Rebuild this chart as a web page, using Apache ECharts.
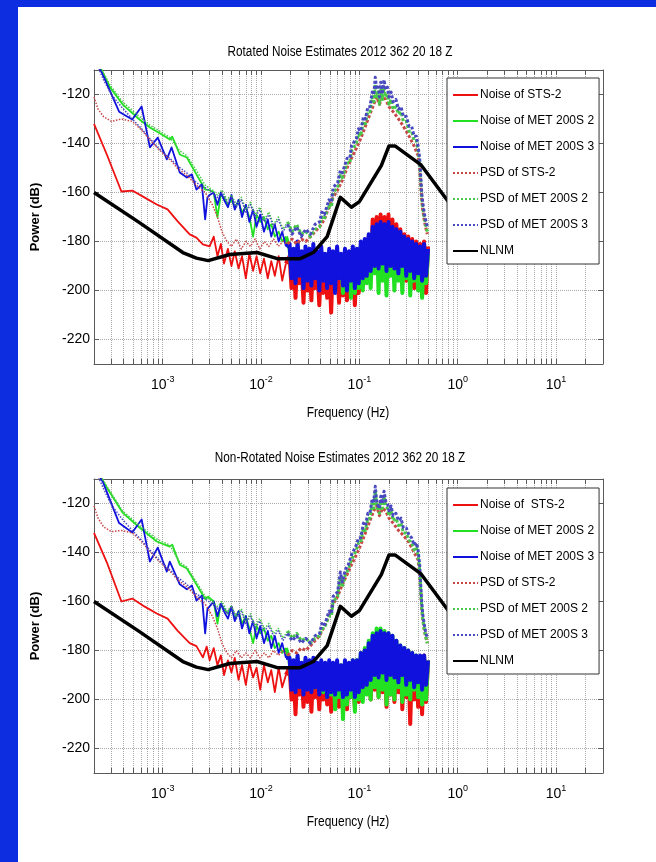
<!DOCTYPE html>
<html><head><meta charset="utf-8">
<script src="https://cdn.jsdelivr.net/npm/echarts@6/dist/echarts.min.js"></script>
<style>html,body{margin:0;padding:0;background:#fff}#c{width:656px;height:862px}</style>
</head><body><div id="c"></div>
<script>
// ---------------- DATA ----------------
const titles = ['Rotated Noise Estimates 2012 362 20 18 Z', 'Non-Rotated Noise Estimates 2012 362 20 18 Z'];
const xName = 'Frequency (Hz)';
const yName = 'Power (dB)';
const legendNames1 = ['Noise of STS-2','Noise of MET 200S 2','Noise of MET 200S 3','PSD of STS-2','PSD of MET 200S 2','PSD of MET 200S 3','NLNM'];
const legendNames2 = ['Noise of  STS-2','Noise of MET 200S 2','Noise of MET 200S 3','PSD of STS-2','PSD of MET 200S 2','PSD of MET 200S 3','NLNM'];
const xLabelTicks = [0.001, 0.01, 0.1, 1, 10];
const xGridTicks = [0.0003,0.0004,0.0005,0.0006,0.0007,0.0008,0.0009,
  0.001,0.002,0.003,0.004,0.005,0.006,0.007,0.008,0.009,
  0.01,0.02,0.03,0.04,0.05,0.06,0.07,0.08,0.09,
  0.1,0.2,0.3,0.4,0.5,0.6,0.7,0.8,0.9,
  1,2,3,4,5,6,7,8,9,10,20,30];
const yTicks = [-220,-200,-180,-160,-140,-120];

// frequency grid of the noisy sections (Hz)
const fMid = [0.0030,0.0033,0.0036,0.0039,0.0042,0.0046,0.0050,0.0054,0.0059,0.0064,
  0.0070,0.0076,0.0083,0.0090,0.0098,0.0107,0.0117,0.0127,0.0138,0.0151,0.0164,0.0179];
const fDense = [0.0195,0.0204,0.0214,0.0224,0.0235,0.0246,0.0258,0.0270,0.0283,0.0296,
  0.0310,0.0325,0.0340,0.0356,0.0373,0.0391,0.0409,0.0429,0.0449,0.0470,
  0.0493,0.0516,0.0540,0.0566,0.0593,0.0621,0.0650,0.0681,0.0713,0.0747,
  0.0783,0.0820,0.0858,0.0899,0.0942,0.0986,0.1033,0.1082,0.1133,0.1187,
  0.1243,0.1302,0.1364,0.1428,0.1496,0.1567,0.1641,0.1719,0.1800,0.1886,
  0.1975,0.2069,0.2167,0.2269,0.2377,0.2490,0.2608,0.2731,0.2861,0.2996,
  0.3138,0.3287,0.3443,0.3606,0.3777,0.3956,0.4143,0.4340,0.4545,0.4761,0.4987];

// NLNM (same model on both panels)
const nlnm = [[2.0e-4,-160],[5.8e-4,-172.3],[1.6e-3,-184.5],[2.2e-3,-186.8],[2.9e-3,-187.8],[4.8e-3,-185.3],[9.1e-3,-184.5],
  [0.0146,-187],[0.025,-187],[0.034,-184.5],[0.047,-178],[0.064,-162],[0.083,-166],[0.1,-163.7],[0.167,-149],
  [0.2,-141],[0.23,-141],[0.42,-148.6],[0.8,-163.7],[1.25,-169],[2.5,-166.7],[5.9,-166.7],[10,-168]];

// ---- Panel 1 (Rotated) ----
const sts1Low = [[2.0e-4,-132],[2.7e-4,-144.5],[3.8e-4,-159.6],[4.9e-4,-159.2],[6.5e-4,-162],[8.7e-4,-164.9],[1.12e-3,-166.9],[1.42e-3,-171.8],[1.88e-3,-177.1],[2.2e-3,-178.4],[2.56e-3,-181.2]];
const sts1Mid = [-182,-178,-186,-181,-189,-183,-190,-184,-191,-186,-195,-185,-192,-186,-193,-187,-195,-188,-194,-186,-196,-189];
const sts1Dense = [-186,-199,-188,-203,-185,-197,-189,-205,-187,-200,
  -188,-204,-186,-199,-190,-206,-187,-201,-189,-203,
  -188,-209,-187,-200,-190,-205,-188,-202,-189,-204,
  -190,-199,-188,-206,-189,-201,-184,-198,-182,-196,
  -178,-194,-171,-192,-170,-193,-169,-191,-170,-194,
  -169,-192,-171,-193,-173,-195,-175,-194,-177,-196,
  -178,-197,-179,-199,-180,-198,-181,-202,-180,-201,-182];
const met2n1Low = [[2.2e-4,-107],[2.9e-4,-117],[3.9e-4,-124],[5.8e-4,-130.2],[7.4e-4,-133.5],[9.8e-4,-136.3],[1.18e-3,-138.4],[1.25e-3,-137.2],[1.49e-3,-144.5],[1.76e-3,-145.7],[2.2e-3,-152.6],[2.7e-3,-158.8]];
const met2n1Mid = [-159,-160,-170,-161,-162,-165,-163,-166,-164,-168,-166,-170,-178,-169,-172,-170,-175,-173,-178,-176,-180,-178];
const met2n1Dense = [-183,-193,-185,-194,-182,-192,-186,-195,-184,-193,
  -185,-195,-183,-193,-186,-196,-184,-194,-186,-197,
  -185,-194,-186,-196,-184,-194,-186,-201,-185,-199,
  -186,-203,-184,-201,-185,-199,-182,-200,-181,-197,
  -179,-199,-176,-193,-175,-201,-174,-196,-176,-202,
  -175,-194,-177,-200,-178,-196,-179,-201,-180,-195,
  -181,-202,-182,-196,-183,-200,-184,-203,-183,-197,-185];
const met3n1Low = [[2.1e-4,-107],[2.4e-4,-111],[3.6e-4,-127],[4.9e-4,-130.2],[6.1e-4,-124.9],[7.4e-4,-141.6],[8.9e-4,-137.6],[1.1e-3,-146.5],[1.23e-3,-141.6],[1.49e-3,-151.8],[1.76e-3,-153.9],[1.98e-3,-152.6],[2.2e-3,-158.8],[2.5e-3,-156.7],[2.7e-3,-171],[2.85e-3,-162]];
const met3n1Mid = [-161,-160,-165,-160,-163,-166,-161,-167,-163,-170,-165,-172,-167,-174,-169,-176,-171,-178,-173,-180,-176,-182];
const met3n1Dense = [-181,-195,-183,-197,-180,-194,-184,-199,-182,-196,
  -183,-198,-181,-195,-184,-200,-182,-196,-185,-199,
  -183,-197,-184,-201,-182,-195,-185,-198,-183,-200,
  -184,-196,-182,-199,-183,-197,-180,-195,-179,-194,
  -177,-192,-174,-190,-173,-191,-172,-189,-173,-192,
  -172,-190,-174,-191,-175,-193,-176,-190,-178,-194,
  -179,-192,-180,-195,-181,-193,-182,-196,-181,-194,-183];
const psdSts1 = [[2.0e-4,-121],[2.2e-4,-126],[2.5e-4,-129],[3.0e-4,-131],[3.8e-4,-130],[4.9e-4,-131],[6.1e-4,-134.5],[7.4e-4,-138.5],[8.9e-4,-142],[1.1e-3,-145.5],[1.25e-3,-147.5],[1.4e-3,-150],[1.76e-3,-153],[2.2e-3,-157],[2.7e-3,-160],[3.2e-3,-165],[3.6e-3,-170],[4.0e-3,-176],[4.5e-3,-180],[5.0e-3,-182],[5.6e-3,-179],[6.3e-3,-183],[7.0e-3,-180],[7.8e-3,-182],[8.7e-3,-179],[9.7e-3,-183],[0.0108,-180],[0.012,-182],[0.0134,-179],[0.015,-182],[0.0167,-180],[0.0186,-181],[0.0207,-179],[0.023,-181],[0.0256,-179],[0.0285,-180],[0.0318,-178],[0.0354,-176],[0.0394,-174],[0.044,-171],[0.049,-166],[0.054,-162],[0.06,-159],[0.067,-155],[0.075,-150],[0.083,-146],[0.093,-142],[0.103,-138],[0.115,-133],[0.128,-128],[0.14,-124],[0.15,-121],[0.16,-124],[0.172,-121],[0.185,-122],[0.2,-125],[0.22,-127],[0.25,-130],[0.28,-133],[0.32,-137],[0.36,-141],[0.395,-145],[0.41,-150],[0.42,-157],[0.43,-163],[0.44,-167],[0.455,-171],[0.47,-174],[0.49,-177]];
const psdMet2_1 = [[2.2e-4,-107],[2.9e-4,-116],[3.9e-4,-123],[5.8e-4,-129],[7.4e-4,-132.5],[9.8e-4,-135.5],[1.18e-3,-137.5],[1.49e-3,-143],[1.76e-3,-145],[2.2e-3,-151],[2.7e-3,-157],[3.2e-3,-159],[3.6e-3,-161],[4.0e-3,-159],[4.5e-3,-163],[5.0e-3,-161],[5.6e-3,-165],[6.3e-3,-162],[7.0e-3,-167],[7.8e-3,-164],[8.7e-3,-169],[9.7e-3,-166],[0.0108,-171],[0.012,-168],[0.0134,-173],[0.015,-170],[0.0167,-175],[0.0186,-172],[0.0207,-176],[0.023,-173],[0.0256,-177],[0.0285,-176],[0.0318,-178],[0.0354,-175],[0.0394,-174],[0.0415,-170],[0.044,-171],[0.049,-165],[0.052,-166],[0.054,-160],[0.06,-158],[0.064,-153],[0.067,-154],[0.075,-148],[0.08,-148],[0.083,-143],[0.093,-140],[0.098,-136],[0.103,-137],[0.11,-131],[0.115,-132],[0.122,-127],[0.128,-127],[0.135,-121],[0.14,-123],[0.145,-116],[0.15,-121],[0.155,-119],[0.16,-124],[0.165,-118],[0.172,-122],[0.178,-117],[0.185,-121],[0.193,-120],[0.2,-124],[0.21,-122],[0.22,-126],[0.235,-125],[0.25,-128],[0.265,-127],[0.28,-131],[0.3,-131],[0.32,-135],[0.34,-135],[0.36,-139],[0.38,-139],[0.395,-143],[0.41,-148],[0.42,-155],[0.43,-162],[0.44,-166],[0.455,-170],[0.47,-173],[0.49,-176]];
const psdMet3_1 = [[2.1e-4,-107],[2.5e-4,-114],[3.0e-4,-120],[3.8e-4,-125],[4.9e-4,-130],[6.1e-4,-134],[7.4e-4,-138],[8.9e-4,-141.5],[1.1e-3,-145],[1.25e-3,-147],[1.4e-3,-149],[1.76e-3,-152],[2.2e-3,-156],[2.7e-3,-158],[3.2e-3,-160],[3.6e-3,-162],[4.0e-3,-160],[4.5e-3,-164],[5.0e-3,-162],[5.6e-3,-166],[6.3e-3,-163],[7.0e-3,-168],[7.8e-3,-165],[8.7e-3,-170],[9.7e-3,-167],[0.0108,-172],[0.012,-169],[0.0134,-174],[0.015,-171],[0.0167,-176],[0.0186,-173],[0.0207,-177],[0.023,-174],[0.0256,-178],[0.0285,-175],[0.0318,-177],[0.0354,-173],[0.0394,-172],[0.0415,-168],[0.044,-169],[0.049,-163],[0.052,-164],[0.054,-158],[0.06,-156],[0.064,-151],[0.067,-152],[0.075,-146],[0.08,-146],[0.083,-141],[0.093,-138],[0.098,-134],[0.103,-135],[0.11,-129],[0.115,-130],[0.122,-125],[0.128,-125],[0.135,-119],[0.14,-120],[0.145,-113],[0.15,-118],[0.155,-116],[0.16,-121],[0.165,-115],[0.172,-119],[0.178,-114],[0.185,-118],[0.193,-117],[0.2,-121],[0.21,-119],[0.22,-123],[0.235,-122],[0.25,-126],[0.265,-125],[0.28,-129],[0.3,-129],[0.32,-133],[0.34,-133],[0.36,-137],[0.38,-137],[0.395,-141],[0.41,-146],[0.42,-153],[0.43,-160],[0.44,-164],[0.455,-168],[0.47,-171],[0.49,-174]];

// ---- Panel 2 (Non-Rotated) ----
const sts2Low = [[2.0e-4,-132],[2.7e-4,-144],[3.8e-4,-160],[4.9e-4,-158.8],[6.5e-4,-162],[8.7e-4,-164.9],[1.12e-3,-167],[1.42e-3,-172],[1.88e-3,-177],[2.2e-3,-178.2],[2.56e-3,-182.8],[2.8e-3,-178.4]];
const sts2Mid = [-184,-179,-186,-182,-190,-184,-189,-183,-192,-186,-194,-185,-191,-187,-196,-186,-193,-188,-197,-187,-195,-190];
const sts2Dense = [-187,-200,-189,-206,-186,-198,-190,-203,-188,-201,
  -189,-205,-187,-199,-190,-204,-188,-200,-189,-202,
  -188,-205,-187,-200,-190,-203,-188,-201,-189,-204,
  -190,-199,-188,-203,-189,-201,-186,-198,-184,-197,
  -182,-200,-179,-196,-178,-199,-177,-197,-178,-203,
  -178,-198,-179,-201,-180,-197,-181,-204,-181,-199,
  -182,-210,-182,-200,-183,-203,-183,-206,-182,-201,-184];
const met2n2Low = [[2.2e-4,-107],[2.7e-4,-113.5],[3.9e-4,-123.7],[5.8e-4,-129.8],[8.7e-4,-135.5],[1.18e-3,-137.6],[1.25e-3,-136.8],[1.49e-3,-145],[1.76e-3,-146.5],[2.2e-3,-153],[2.7e-3,-159],[2.9e-3,-158]];
const met2n2Mid = [-158,-160,-169,-161,-163,-165,-162,-167,-164,-169,-166,-171,-177,-170,-173,-171,-176,-174,-179,-177,-181,-179];
const met2n2Dense = [-184,-194,-185,-195,-183,-194,-186,-196,-184,-195,
  -185,-196,-184,-195,-186,-197,-185,-197,-186,-199,
  -185,-198,-186,-204,-185,-199,-186,-208,-185,-202,
  -186,-199,-184,-205,-184,-200,-181,-201,-179,-198,
  -176,-200,-173,-195,-171,-199,-171,-196,-172,-202,
  -173,-198,-174,-200,-176,-195,-178,-201,-179,-198,
  -180,-200,-181,-196,-182,-199,-183,-202,-183,-200,-184];
const met3n2Low = [[2.1e-4,-107],[2.45e-4,-111],[3.6e-4,-128],[4.9e-4,-131.8],[6.1e-4,-126.5],[7.4e-4,-143.7],[8.9e-4,-138],[1.1e-3,-147.8],[1.18e-3,-143.7],[1.49e-3,-153],[1.76e-3,-155],[1.98e-3,-153.5],[2.2e-3,-159.6],[2.5e-3,-157.6],[2.7e-3,-173],[2.85e-3,-163]];
const met3n2Mid = [-162,-160,-166,-161,-164,-167,-162,-168,-164,-171,-166,-173,-168,-175,-170,-177,-172,-179,-174,-181,-177,-183];
const met3n2Dense = [-183,-196,-184,-197,-182,-195,-185,-198,-183,-196,
  -184,-197,-183,-195,-185,-198,-184,-196,-185,-199,
  -184,-197,-185,-198,-184,-196,-186,-199,-184,-198,
  -185,-196,-184,-199,-184,-197,-181,-195,-180,-194,
  -177,-192,-174,-190,-173,-191,-172,-189,-173,-192,
  -173,-190,-174,-191,-176,-193,-178,-190,-179,-194,
  -180,-192,-181,-195,-182,-193,-182,-196,-182,-194,-184];
const psdSts2 = [[2.0e-4,-121],[2.2e-4,-126],[2.5e-4,-129.5],[3.0e-4,-131.5],[3.8e-4,-131],[4.9e-4,-132],[6.1e-4,-135.5],[7.4e-4,-139.5],[8.9e-4,-143],[1.1e-3,-146.5],[1.25e-3,-148.5],[1.4e-3,-151],[1.76e-3,-154],[2.2e-3,-158],[2.7e-3,-161],[3.2e-3,-166],[3.6e-3,-171],[4.0e-3,-177],[4.5e-3,-181],[5.0e-3,-183],[5.6e-3,-180],[6.3e-3,-183],[7.0e-3,-181],[7.8e-3,-183],[8.7e-3,-180],[9.7e-3,-183],[0.0108,-181],[0.012,-183],[0.0134,-180],[0.015,-182],[0.0167,-180],[0.0186,-182],[0.0207,-180],[0.023,-181],[0.0256,-179],[0.0285,-180],[0.0318,-178],[0.0354,-176],[0.0394,-174],[0.044,-170],[0.049,-166],[0.054,-161],[0.06,-158],[0.067,-153],[0.075,-149],[0.083,-145],[0.093,-141],[0.103,-137],[0.115,-132],[0.128,-127],[0.14,-123],[0.15,-121],[0.16,-125],[0.172,-122],[0.185,-123],[0.2,-126],[0.22,-128],[0.25,-131],[0.28,-133],[0.32,-136],[0.36,-140],[0.395,-143],[0.41,-149],[0.42,-156],[0.43,-163],[0.44,-167],[0.455,-171],[0.47,-174],[0.49,-177]];
const psdMet2_2 = [[2.2e-4,-107],[2.7e-4,-113],[3.9e-4,-123],[5.8e-4,-129],[8.7e-4,-134.5],[1.18e-3,-137],[1.49e-3,-144],[1.76e-3,-146],[2.2e-3,-152],[2.7e-3,-158],[3.2e-3,-160],[3.6e-3,-162],[4.0e-3,-160],[4.5e-3,-164],[5.0e-3,-162],[5.6e-3,-166],[6.3e-3,-163],[7.0e-3,-168],[7.8e-3,-165],[8.7e-3,-170],[9.7e-3,-167],[0.0108,-171],[0.012,-169],[0.0134,-173],[0.015,-171],[0.0167,-175],[0.0186,-172],[0.0207,-175],[0.023,-173],[0.0256,-176],[0.0285,-175],[0.0318,-177],[0.0354,-175],[0.0394,-174],[0.0415,-171],[0.044,-171],[0.049,-166],[0.052,-166],[0.054,-160],[0.06,-158],[0.064,-150],[0.067,-154],[0.072,-149],[0.077,-147],[0.083,-143],[0.093,-139],[0.098,-136],[0.103,-136],[0.11,-130],[0.115,-131],[0.122,-126],[0.128,-126],[0.135,-120],[0.14,-122],[0.145,-115],[0.15,-121],[0.155,-123],[0.16,-124],[0.165,-119],[0.172,-122],[0.178,-117],[0.185,-121],[0.193,-122],[0.2,-125],[0.21,-123],[0.22,-127],[0.235,-126],[0.25,-129],[0.265,-128],[0.28,-132],[0.3,-132],[0.32,-135],[0.34,-136],[0.36,-139],[0.38,-138],[0.395,-141],[0.41,-147],[0.42,-155],[0.43,-162],[0.44,-167],[0.455,-171],[0.47,-174],[0.49,-177]];
const psdMet3_2 = [[2.1e-4,-107],[2.5e-4,-114],[3.0e-4,-120.5],[3.8e-4,-126],[4.9e-4,-131],[6.1e-4,-135],[7.4e-4,-139],[8.9e-4,-142.5],[1.1e-3,-146],[1.25e-3,-148],[1.4e-3,-150],[1.76e-3,-153],[2.2e-3,-157],[2.7e-3,-159],[3.2e-3,-161],[3.6e-3,-163],[4.0e-3,-161],[4.5e-3,-165],[5.0e-3,-162],[5.6e-3,-167],[6.3e-3,-164],[7.0e-3,-169],[7.8e-3,-166],[8.7e-3,-171],[9.7e-3,-168],[0.0108,-172],[0.012,-170],[0.0134,-174],[0.015,-172],[0.0167,-176],[0.0186,-173],[0.0207,-176],[0.023,-174],[0.0256,-177],[0.0285,-175],[0.0318,-177],[0.0354,-174],[0.0394,-173],[0.0415,-169],[0.044,-170],[0.049,-164],[0.052,-165],[0.054,-158],[0.06,-156],[0.064,-148],[0.067,-152],[0.072,-147],[0.077,-145],[0.083,-141],[0.093,-137],[0.098,-134],[0.103,-134],[0.11,-128],[0.115,-129],[0.122,-124],[0.128,-124],[0.135,-118],[0.14,-119],[0.145,-113],[0.15,-119],[0.155,-121],[0.16,-122],[0.165,-117],[0.172,-120],[0.178,-115],[0.185,-119],[0.193,-120],[0.2,-123],[0.21,-121],[0.22,-125],[0.235,-124],[0.25,-127],[0.265,-126],[0.28,-130],[0.3,-130],[0.32,-133],[0.34,-134],[0.36,-137],[0.38,-136],[0.395,-139],[0.41,-145],[0.42,-153],[0.43,-160],[0.44,-165],[0.455,-169],[0.47,-172],[0.49,-175]];

// ---------------- BUILD ----------------
const FN = "'Liberation Sans',Arial,sans-serif";
const COL = {red:'#ee1111', green:'#22e022', blue:'#1111dd', psdR:'#c84848', psdG:'#48c848', psdB:'#4848c0', black:'#000'};
const AX = '#5a5a5a';

const grids = [{left:94, top:70, width:509, height:294}, {left:94, top:479, width:509, height:294}];

const xAxes = [], yAxes = [];
grids.forEach((g, gi) => {
  const base = {type:'log', logBase:10, min:0.0002, max:30, gridIndex:gi};
  xAxes.push(Object.assign({}, base, {
    position:'bottom',
    axisLine:{show:true, lineStyle:{color:AX, width:1}},
    axisTick:{show:true, inside:true, length:5, customValues:xGridTicks, lineStyle:{color:AX}},
    axisLabel:{customValues:xLabelTicks, margin:11, color:'#000',
      formatter: v => '{b|10}{s|' + Math.round(Math.log10(v)) + '}',
      rich:{b:{fontFamily:FN, fontSize:14, color:'#000', verticalAlign:'bottom'},
            s:{fontFamily:FN, fontSize:9, color:'#000', verticalAlign:'bottom', padding:[0,0,8,0]}}},
    splitLine:{show:true, lineStyle:{color:'#aaaaaa', type:'dotted', width:1}}
  }));
  xAxes.push(Object.assign({}, base, {
    position:'top',
    axisLine:{show:true, lineStyle:{color:AX, width:1}},
    axisTick:{show:true, inside:true, length:5, customValues:xGridTicks, lineStyle:{color:AX}},
    axisLabel:{show:false}, splitLine:{show:false}
  }));
  const ybase = {type:'value', min:-230, max:-110, gridIndex:gi, splitNumber:6};
  yAxes.push(Object.assign({}, ybase, {
    position:'left',
    axisLine:{show:true, lineStyle:{color:AX, width:1}},
    axisTick:{show:true, inside:true, length:5, customValues:yTicks, lineStyle:{color:AX}},
    axisLabel:{customValues:yTicks, margin:4, fontFamily:FN, fontSize:14, color:'#000'},
    splitLine:{show:true, lineStyle:{color:'#aaaaaa', type:'dotted', width:1}},
    name:yName, nameLocation:'middle', nameGap:52,
    nameTextStyle:{fontFamily:FN, fontSize:13, fontWeight:'bold', color:'#000'}
  }));
  yAxes.push(Object.assign({}, ybase, {
    position:'right',
    axisLine:{show:true, lineStyle:{color:AX, width:1}},
    axisTick:{show:true, inside:true, length:5, customValues:yTicks, lineStyle:{color:AX}},
    axisLabel:{show:false}, splitLine:{show:false}
  }));
});

function line(name, data, gi, color, width, type, z) {
  return {type:'line', name, data, xAxisIndex:gi*2, yAxisIndex:gi*2, symbol:'none', showSymbol:false,
    lineStyle:{color, width, type, join:'round'}, itemStyle:{color}, animation:false, silent:true, clip:true, z:z||2};
}
// Each noise curve: thin part (low + mid band) and the dense high-frequency part
function noiseParts(low, mid, dense) {
  const thin = low.concat(fMid.map((f, i) => [f, mid[i]]));
  const thick = [[fMid[fMid.length-1], mid[mid.length-1]]].concat(fDense.map((f, i) => [f, dense[i]]));
  return [thin, thick];
}
function psdParts(arr) {
  return [arr.filter(d => d[0] <= 0.0186), arr.filter(d => d[0] >= 0.0186)];
}
const panels = [
  {names:legendNames1, sts:noiseParts(sts1Low, sts1Mid, sts1Dense), m2:noiseParts(met2n1Low, met2n1Mid, met2n1Dense),
   m3:noiseParts(met3n1Low, met3n1Mid, met3n1Dense), ps:psdParts(psdSts1), p2:psdParts(psdMet2_1), p3:psdParts(psdMet3_1)},
  {names:legendNames2, sts:noiseParts(sts2Low, sts2Mid, sts2Dense), m2:noiseParts(met2n2Low, met2n2Mid, met2n2Dense),
   m3:noiseParts(met3n2Low, met3n2Mid, met3n2Dense), ps:psdParts(psdSts2), p2:psdParts(psdMet2_2), p3:psdParts(psdMet3_2)}
];
const series = [];
panels.forEach((p, gi) => {
  const nz = [[p.sts, COL.red], [p.m2, COL.green], [p.m3, COL.blue]];
  nz.forEach((n, k) => {
    series.push(line(p.names[k], n[0][0], gi, n[1], 1.8, 'solid'));
    series.push(line(p.names[k], n[0][1], gi, n[1], 4, 'solid'));
  });
  const pz = [[p.ps, COL.psdR], [p.p2, COL.psdG], [p.p3, COL.psdB]];
  pz.forEach((n, k) => {
    series.push(line(p.names[3+k], n[0][0], gi, n[1], 1.5, 'dotted'));
    series.push(line(p.names[3+k], n[0][1], gi, n[1], 3, [3,2]));
  });
  series.push(line(p.names[6], nlnm, gi, COL.black, 3.5, 'solid', 3));
});

function legend(names, top) {
  return {data:names, orient:'vertical', left:447, top, backgroundColor:'#fff', borderColor:'#333', borderWidth:1,
    padding:[10,5,6,5], itemGap:12, itemWidth:25, itemHeight:14, selectedMode:false, z:10,
    itemStyle:{opacity:0, borderWidth:0},
    textStyle:{fontFamily:FN, fontSize:12, color:'#000', lineHeight:14, padding:[0,0,0,-3]}};
}

const chart = echarts.init(document.getElementById('c'), null, {renderer:'canvas'});
chart.setOption({
  backgroundColor:'#fff',
  animation:false,
  grid: grids,
  xAxis: xAxes,
  yAxis: yAxes,
  legend: [legend(legendNames1, 78), legend(legendNames2, 488)],
  series,
  graphic: [
    {type:'rect', shape:{x:0, y:0, width:656, height:7}, style:{fill:'#0c2ee0'}, z:100},
    {type:'rect', shape:{x:0, y:0, width:18, height:862}, style:{fill:'#0c2ee0'}, z:100},
    {type:'text', x:340, y:52, scaleX:0.84, style:{text:titles[0], font:"14px " + FN, fill:'#000', textAlign:'center', textVerticalAlign:'middle'}},
    {type:'text', x:340, y:458, scaleX:0.84, style:{text:titles[1], font:"14px " + FN, fill:'#000', textAlign:'center', textVerticalAlign:'middle'}},
    {type:'text', x:348, y:413, scaleX:0.8, style:{text:xName, font:"15px " + FN, fill:'#000', textAlign:'center', textVerticalAlign:'middle'}},
    {type:'text', x:348, y:822, scaleX:0.8, style:{text:xName, font:"15px " + FN, fill:'#000', textAlign:'center', textVerticalAlign:'middle'}}
  ]
});
</script></body></html>
